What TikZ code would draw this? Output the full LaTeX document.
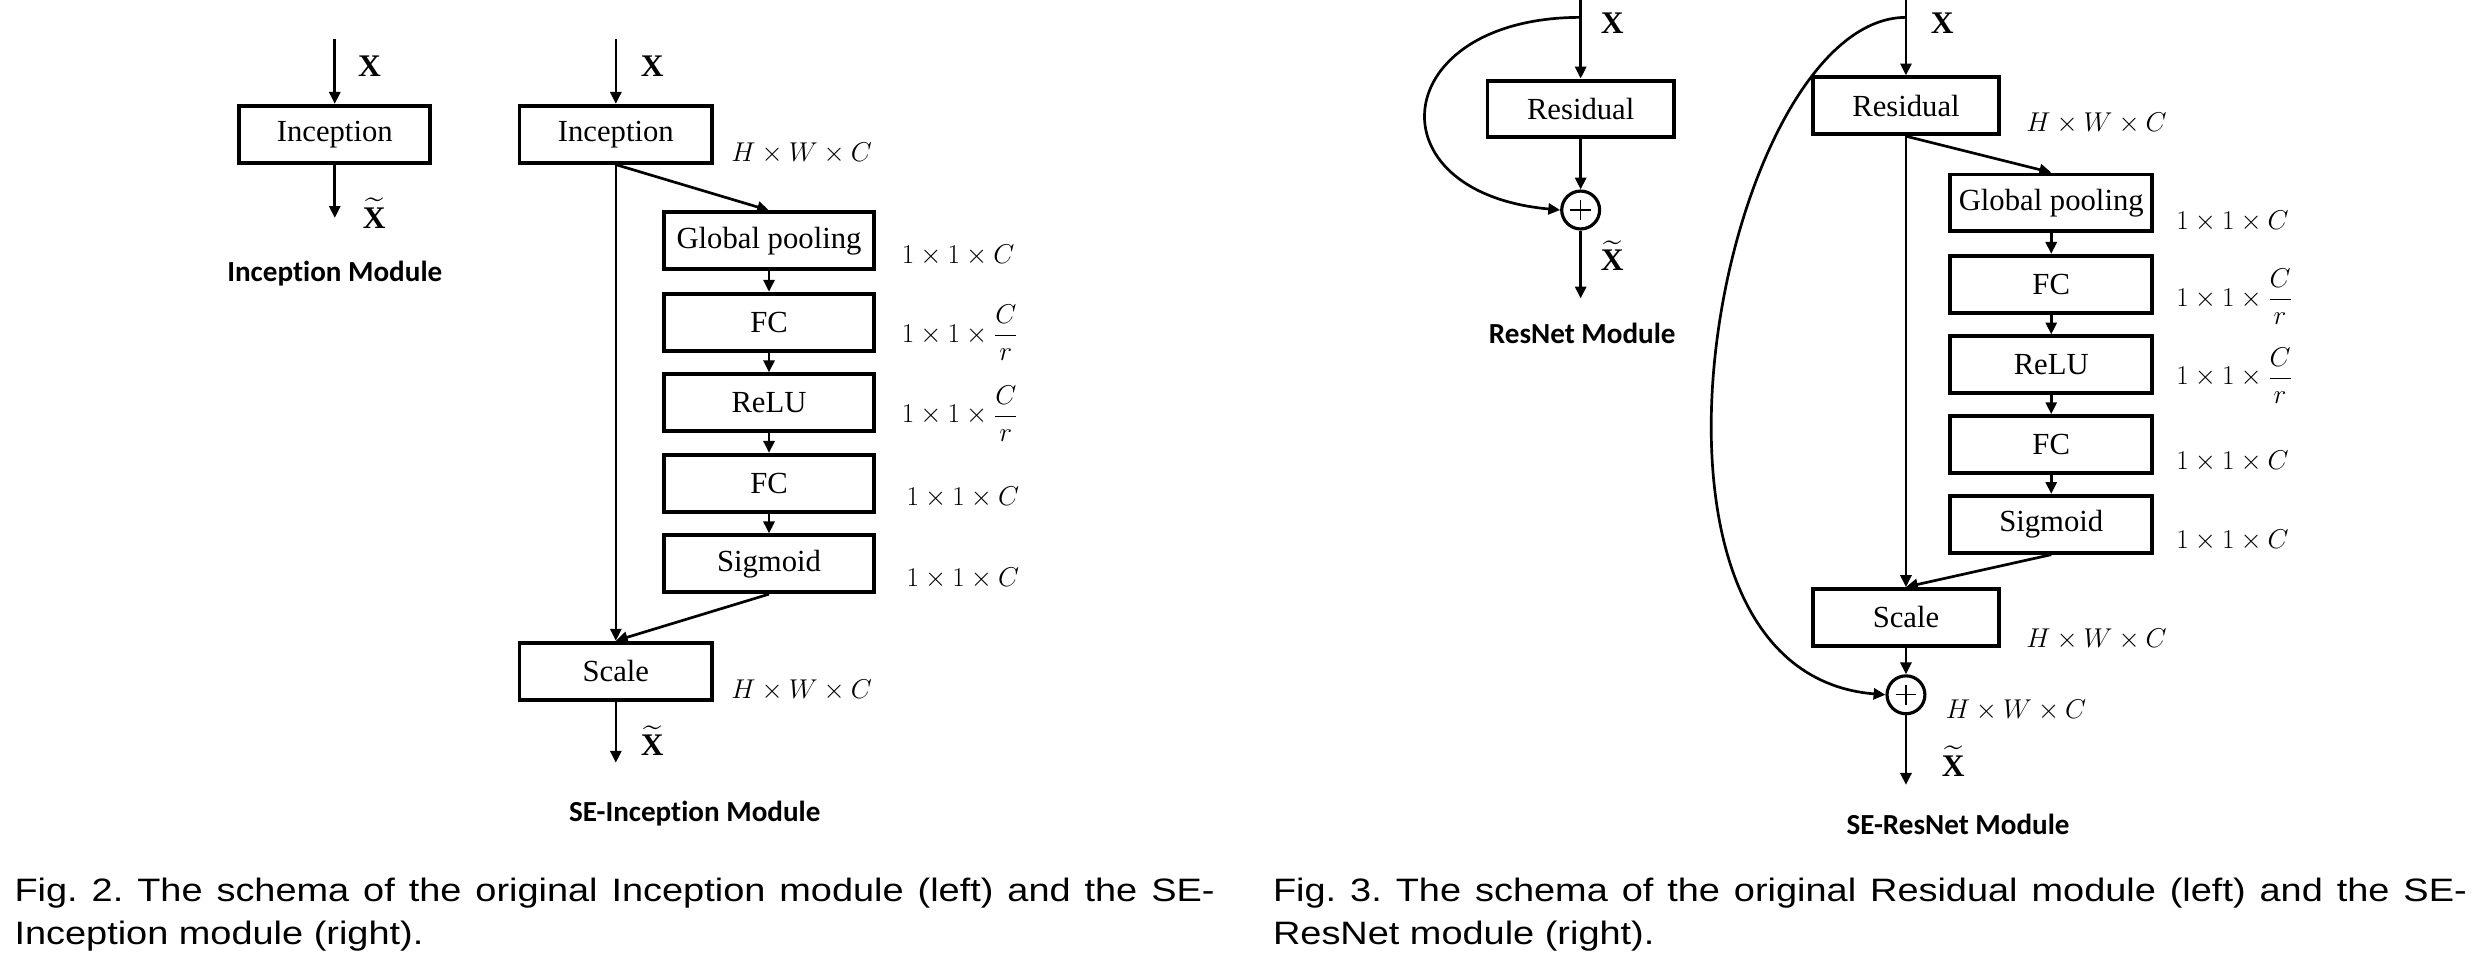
\documentclass[tikz,border=0pt]{standalone}
\usepackage{amsmath}
\usepackage{fontspec}
\setmainfont{Liberation Serif}
\newfontfamily\capfont[FakeStretch=1.17]{Liberation Sans}
\newfontfamily\modfont[Ligatures=NoCommon]{Carlito}
\usetikzlibrary{arrows.meta}
\begin{document}
\frenchspacing
\begin{tikzpicture}[x=1bp,y=-1bp,
  blk/.style={draw, line width=2.5bp, minimum height=36bp, inner sep=0pt, font=\fontsize{19.5}{22}\selectfont},
  conn/.style={line width=1.7bp, -{Triangle[length=7.5bp,width=7bp]}},
  dimlbl/.style={font=\fontsize{16.5}{19}\selectfont, inner sep=0pt, anchor=west},
  xlbl/.style={font=\fontsize{20}{22}\selectfont\bfseries, inner sep=0pt},
  modlbl/.style={font=\modfont\bfseries\fontsize{18.5}{22}\selectfont, inner sep=0pt},
  caplbl/.style={font=\capfont\fontsize{20.6}{24}\selectfont, inner sep=0pt, anchor=base west},
  sumnode/.style={draw, circle, line width=2bp, minimum size=24bp, inner sep=0pt,
    path picture={\draw[line width=0.8bp] ([xshift=-6.5bp]path picture bounding box.center) -- ([xshift=6.5bp]path picture bounding box.center) ([yshift=-6.5bp]path picture bounding box.center) -- ([yshift=6.5bp]path picture bounding box.center);}},
]
\useasboundingbox (0,0) rectangle (1568,606);

% ---------- Inception module ----------
\node[blk, minimum width=121bp] (inc1) at (212,85) {Inception};
\coordinate (inc1in) at (212,25);
\coordinate (inc1out) at (212,138);
\draw[conn] (inc1in) -- (inc1);
\draw[conn] (inc1) -- (inc1out);
\node[xlbl] (x1) at (234,42) {X};
\node[xlbl] (xt1) at (237,135) {$\widetilde{\text{\bfseries X}}$};
\node[modlbl] (m1) at (212,173) {Inception Module};

% ---------- SE-Inception module ----------
\node[blk, minimum width=122bp] (inc2) at (390,85) {Inception};
\coordinate (inc2in) at (390,25);
\draw[conn] (inc2in) -- (inc2);
\node[xlbl] (x2) at (413,42) {X};
\node[dimlbl] (d2a) at (463,97) {$H\times W\times C$};
\node[blk, minimum width=133bp] (gp2) at (487,152.5) {Global pooling};
\node[blk, minimum width=133bp] (fc2a) at (487,204) {FC};
\node[blk, minimum width=133bp] (relu2) at (487,255) {ReLU};
\node[blk, minimum width=133bp] (fc2b) at (487,306) {FC};
\node[blk, minimum width=133bp] (sig2) at (487,357) {Sigmoid};
\node[blk, minimum width=122bp] (sc2) at (390,425) {Scale};
\node[dimlbl] (d2b) at (571,162) {$1\times1\times C$};
\node[dimlbl] (d2c) at (571,211) {$1\times1\times\dfrac{C}{r}$};
\node[dimlbl] (d2d) at (571,262) {$1\times1\times\dfrac{C}{r}$};
\node[dimlbl] (d2e) at (574,315) {$1\times1\times C$};
\node[dimlbl] (d2f) at (574,366) {$1\times1\times C$};
\node[dimlbl] (d2g) at (463,437) {$H\times W\times C$};
\draw[conn] (inc2.south) -- (gp2.north);
\draw[conn] (gp2) -- (fc2a);
\draw[conn] (fc2a) -- (relu2);
\draw[conn] (relu2) -- (fc2b);
\draw[conn] (fc2b) -- (sig2);
\draw[conn] (inc2.south) -- (sc2.north);
\draw[conn] (sig2.south) -- (sc2.north);
\coordinate (sc2out) at (390,483);
\draw[conn] (sc2) -- (sc2out);
\node[xlbl] (xt2) at (413,469) {$\widetilde{\text{\bfseries X}}$};
\node[modlbl] (m2) at (440,515) {SE-Inception Module};

% ---------- ResNet module ----------
\node[blk, minimum width=118bp] (res1) at (1001,69) {Residual};
\coordinate (res1in) at (1001,0);
\coordinate (res1br) at (1001,11);
\node[sumnode] (sum1) at (1001,133) {};
\coordinate (sum1out) at (1001,189);
\draw[conn] (res1in) -- (res1);
\draw[conn] (res1) -- (sum1);
\draw[conn] (sum1) -- (sum1out);
\draw[conn] (res1br) .. controls (879,11) and (867,122) .. (sum1.west);
\node[xlbl] (x3) at (1021,15) {X};
\node[xlbl] (xt3) at (1021,162) {$\widetilde{\text{\bfseries X}}$};
\node[modlbl] (m3) at (1002,211) {ResNet Module};

% ---------- SE-ResNet module ----------
\node[blk, minimum width=118bp] (res2) at (1207,67) {Residual};
\coordinate (res2in) at (1207,0);
\coordinate (res2br) at (1207,11);
\node[xlbl] (x4) at (1230,15) {X};
\node[dimlbl] (d4a) at (1283,78) {$H\times W\times C$};
\node[blk, minimum width=128bp] (gp4) at (1299,128.5) {Global pooling};
\node[blk, minimum width=128bp] (fc4a) at (1299,180) {FC};
\node[blk, minimum width=128bp] (relu4) at (1299,231) {ReLU};
\node[blk, minimum width=128bp] (fc4b) at (1299,281.5) {FC};
\node[blk, minimum width=128bp] (sig4) at (1299,332) {Sigmoid};
\node[blk, minimum width=118bp] (sc4) at (1207,391) {Scale};
\node[sumnode] (sum4) at (1207,440) {};
\coordinate (sum4out) at (1207,497);
\node[dimlbl] (d4b) at (1378,140) {$1\times1\times C$};
\node[dimlbl] (d4c) at (1378,188) {$1\times1\times\dfrac{C}{r}$};
\node[dimlbl] (d4d) at (1378,238) {$1\times1\times\dfrac{C}{r}$};
\node[dimlbl] (d4e) at (1378,292) {$1\times1\times C$};
\node[dimlbl] (d4f) at (1378,342) {$1\times1\times C$};
\node[dimlbl] (d4g) at (1283,405) {$H\times W\times C$};
\node[dimlbl] (d4h) at (1232,450) {$H\times W\times C$};
\draw[conn] (res2in) -- (res2);
\draw[conn] (res2.south) -- (gp4.north);
\draw[conn] (gp4) -- (fc4a);
\draw[conn] (fc4a) -- (relu4);
\draw[conn] (relu4) -- (fc4b);
\draw[conn] (fc4b) -- (sig4);
\draw[conn] (res2.south) -- (sc4.north);
\draw[conn] (sig4.south) -- (sc4.north);
\draw[conn] (sc4) -- (sum4);
\draw[conn] (sum4) -- (sum4out);
\draw[conn] (res2br) .. controls (1090,11) and (1010,425) .. (sum4.west);
\node[xlbl] (xt4) at (1237,482) {$\widetilde{\text{\bfseries X}}$};
\node[modlbl] (m4) at (1240,522) {SE-ResNet Module};

% ---------- captions ----------
\node[caplbl] (c1a) at (9,571) {\makebox[760bp][s]{Fig. 2. The schema of the original Inception module (left) and the SE-}};
\node[caplbl] (c1b) at (9,598) {Inception module (right).};
\node[caplbl] (c2a) at (806,571) {\makebox[756bp][s]{Fig. 3. The schema of the original Residual module (left) and the SE-}};
\node[caplbl] (c2b) at (806,598) {ResNet module (right).};
\end{tikzpicture}
\end{document}
